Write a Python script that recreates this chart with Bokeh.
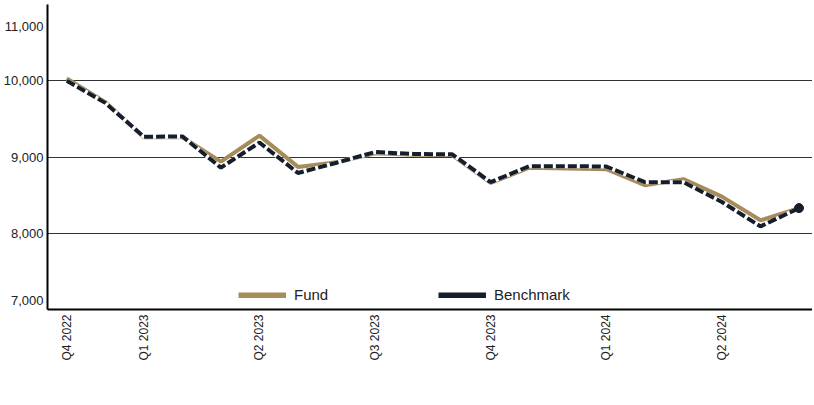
import math
from bokeh.plotting import figure
from bokeh.models import Range1d, FixedTicker, NumeralTickFormatter, Legend, LegendItem
from bokeh.embed import file_html
from bokeh.resources import INLINE

months = ["Nov 2022", "Dec 2022", "Jan 2023", "Feb 2023", "Mar 2023", "Apr 2023", "May 2023",
          "Jun 2023", "Jul 2023", "Aug 2023", "Sep 2023", "Oct 2023", "Nov 2023", "Dec 2023",
          "Jan 2024", "Feb 2024", "Mar 2024", "Apr 2024", "May 2024", "Jun 2024"]
fund = [10030, 9720, 9260, 9260, 8940, 9280, 8870, 8930, 9050, 9030, 9025, 8660,
        8860, 8850, 8840, 8630, 8710, 8480, 8170, 8330]
benchmark = [10000, 9710, 9265, 9270, 8860, 9190, 8790, 8925, 9065, 9040, 9035, 8670,
             8880, 8880, 8875, 8670, 8670, 8410, 8090, 8330]
tick_idx = [0, 2, 5, 8, 11, 14, 17]
tick_labels = ["Q4 2022", "Q1 2023", "Q2 2023", "Q3 2023", "Q4 2023", "Q1 2024", "Q2 2024"]
y_ticks = [7000, 8000, 9000, 10000, 11000]
grid_ticks = [8000, 9000, 10000]
series_names = ["Fund", "Benchmark"]

FONT = "Liberation Sans"
TAN = "#a68b5b"
NAVY = "#141e2c"

x = list(range(len(months)))

p = figure(frame_width=765, frame_height=305, output_backend="svg", toolbar_location=None,
           x_range=Range1d(-0.5, 19.35), y_range=Range1d(7000, 11000),
           min_border_top=4, min_border_right=0, min_border_left=0, min_border_bottom=0)
p.outline_line_color = None
p.background_fill_color = "white"

p.line(x, fund, line_color=TAN, line_width=4)
p.line(x, benchmark, line_color="white", line_width=4)
p.line(x, benchmark, line_color=NAVY, line_width=4, line_dash="9 3")
p.scatter([x[-1]], [benchmark[-1]], size=9, color=NAVY)

# legend proxies (solid swatches, draw nothing in the plot)
nan = float("nan")
fr = p.line([nan], [nan], line_color=TAN, line_width=6)
br = p.line([nan], [nan], line_color=NAVY, line_width=6)

# axes
p.xaxis.ticker = FixedTicker(ticks=tick_idx)
p.xaxis.major_label_overrides = {i: l for i, l in zip(tick_idx, tick_labels)}
p.xaxis.major_label_orientation = math.pi / 2
p.yaxis.ticker = FixedTicker(ticks=y_ticks)
p.yaxis.formatter = NumeralTickFormatter(format="0,0")
# edge labels nudged inward like the reference
p.yaxis.major_label_overrides = {11000: "\n11,000", 7000: "7,000\n"}
for ax in (p.xaxis, p.yaxis):
    ax.axis_line_color = "black"
    ax.axis_line_width = 2
    ax.major_tick_line_color = None
    ax.minor_tick_line_color = None
    ax.major_tick_out = 0
    ax.major_tick_in = 0
    ax.major_label_text_font = FONT
    ax.major_label_text_color = "#222222"
p.yaxis.major_label_text_font_size = "13px"
p.xaxis.major_label_text_font_size = "12px"
p.yaxis.major_label_standoff = 4
p.xaxis.major_label_standoff = 5

p.xgrid.grid_line_color = None
p.ygrid.ticker = FixedTicker(ticks=grid_ticks)
p.ygrid.grid_line_color = "#333333"
p.ygrid.grid_line_width = 1

# legend kept inside the frame's empty lower band so that it stays visible
legend = Legend(items=[LegendItem(label=series_names[0], renderers=[fr]),
                       LegendItem(label=series_names[1], renderers=[br])],
                orientation="horizontal", location=(191, 6))
legend.glyph_width = 48
legend.glyph_height = 6
legend.label_width = 144
legend.label_standoff = 8
legend.spacing = 0
legend.label_text_font = FONT
legend.label_text_font_size = "15px"
legend.label_text_color = "#222222"
legend.border_line_color = None
legend.background_fill_alpha = 0
legend.padding = 0
legend.margin = 0
p.add_layout(legend, "center")

open("out.html", "w").write(file_html(p, INLINE))
